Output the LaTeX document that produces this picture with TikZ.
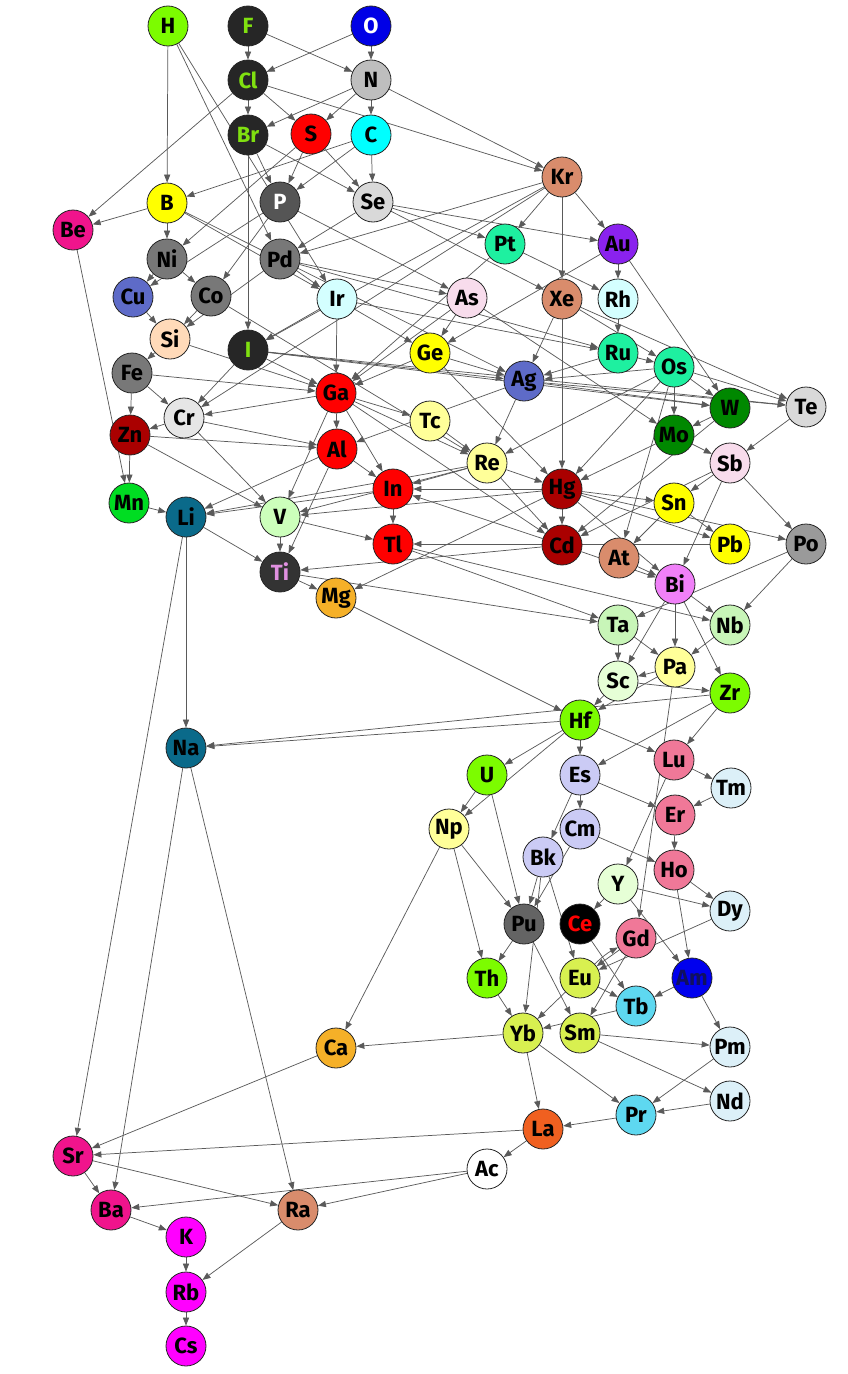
\documentclass[tikz,border=0pt]{standalone}
\usepackage{fontspec}
\setmainfont{Fira Sans}
\usetikzlibrary{arrows.meta,backgrounds}

% Colores de los elementos
\definecolor{cLima}{HTML}{7CFC00}
\definecolor{cOsc}{HTML}{262626}
\definecolor{cVerdeTxt}{HTML}{80E010}
\definecolor{cAzul}{HTML}{0000E6}
\definecolor{cGrisN}{HTML}{BEBEBE}
\definecolor{cRojo}{HTML}{FF0000}
\definecolor{cCian}{HTML}{00FFFF}
\definecolor{cSalmon}{HTML}{D98C6C}
\definecolor{cAmar}{HTML}{FFFF00}
\definecolor{cRosa}{HTML}{F0148C}
\definecolor{cGrisP}{HTML}{555555}
\definecolor{cGrisSe}{HTML}{D9D9D9}
\definecolor{cMenta}{HTML}{1EF0A0}
\definecolor{cVioleta}{HTML}{8A22EE}
\definecolor{cGrisM}{HTML}{787878}
\definecolor{cPizarra}{HTML}{5E6BC8}
\definecolor{cCelesteC}{HTML}{D4FFFF}
\definecolor{cRosaC}{HTML}{F8DCEC}
\definecolor{cMelocoton}{HTML}{FFDAB9}
\definecolor{cVerdeW}{HTML}{008800}
\definecolor{cGrisCr}{HTML}{E6E6E6}
\definecolor{cAmarC}{HTML}{FFFF99}
\definecolor{cGranate}{HTML}{AA0000}
\definecolor{cVerdeMn}{HTML}{00DD22}
\definecolor{cPetroleo}{HTML}{0A6A8A}
\definecolor{cVerdeV}{HTML}{CCFFBB}
\definecolor{cGrisPo}{HTML}{9A9A9A}
\definecolor{cGrisTi}{HTML}{333333}
\definecolor{cTxtTi}{HTML}{E090E0}
\definecolor{cMagentaC}{HTML}{F080F8}
\definecolor{cNaranja}{HTML}{F5B028}
\definecolor{cVerdeTa}{HTML}{C8F5B8}
\definecolor{cVerdeSc}{HTML}{E6FFD6}
\definecolor{cRosaLu}{HTML}{F07898}
\definecolor{cLavanda}{HTML}{CBCBF5}
\definecolor{cAzulTm}{HTML}{DCF0F8}
\definecolor{cGrisPu}{HTML}{646464}
\definecolor{cAzulAm}{HTML}{0000EE}
\definecolor{cTxtAm}{HTML}{101060}
\definecolor{cAmarEu}{HTML}{D8F050}
\definecolor{cCielo}{HTML}{5ED8F0}
\definecolor{cNaranjaLa}{HTML}{F06020}
\definecolor{cMagenta}{HTML}{FF00FF}
\definecolor{cArista}{HTML}{5A5A5A}

\tikzset{
  elem/.style={circle, draw=black!85, line width=0.6pt, fill=#1,
    minimum size=30pt, inner sep=0pt, font=\fontsize{16.5}{16.5}\selectfont\bfseries},
  arista/.style={draw=cArista, line width=0.55pt,
    -{Triangle[length=6pt,width=4.6pt]}}
}

\begin{document}
\begin{tikzpicture}[x=0.75pt,y=-0.75pt]
    \useasboundingbox (0,0) rectangle (848,1374);

    % Nodos (parte alta)
    \node[elem=cLima] (H) at (168,26) {H};
    \node[elem=cOsc, text=cVerdeTxt] (F) at (248,26) {F};
    \node[elem=cAzul, text=white] (O) at (371,26) {O};
    \node[elem=cOsc, text=cVerdeTxt] (Cl) at (248,80) {Cl};
    \node[elem=cGrisN] (N) at (371,80) {N};
    \node[elem=cOsc, text=cVerdeTxt] (Br) at (248,135) {Br};
    \node[elem=cRojo] (S) at (311,134) {S};
    \node[elem=cCian] (C) at (371,135) {C};
    \node[elem=cSalmon] (Kr) at (562,177) {Kr};
    \node[elem=cAmar] (B) at (167,203) {B};
    \node[elem=cRosa] (Be) at (73,230) {Be};
    \node[elem=cGrisP, text=white] (P) at (280,202) {P};
    \node[elem=cGrisSe] (Se) at (373,202) {Se};
    \node[elem=cMenta] (Pt) at (505,244) {Pt};
    \node[elem=cVioleta] (Au) at (618,244) {Au};
    \node[elem=cGrisM] (Ni) at (167,259) {Ni};
    \node[elem=cGrisM] (Pd) at (280,259) {Pd};
    \node[elem=cPizarra] (Cu) at (133,297) {Cu};
    \node[elem=cGrisM] (Co) at (211,296) {Co};
    \node[elem=cCelesteC] (Ir) at (337,299) {Ir};
    \node[elem=cRosaC] (As) at (467,298) {As};
    \node[elem=cSalmon] (Xe) at (562,299) {Xe};
    \node[elem=cCelesteC] (Rh) at (618,299) {Rh};
    \node[elem=cMelocoton] (Si) at (170,339) {Si};
    \node[elem=cOsc, text=cVerdeTxt] (I) at (248,350) {I};
    \node[elem=cAmar] (Ge) at (430,353) {Ge};
    \node[elem=cMenta] (Ru) at (618,353) {Ru};
    \node[elem=cMenta] (Os) at (674,367) {Os};
    \node[elem=cGrisM] (Fe) at (132,373) {Fe};
    \node[elem=cPizarra] (Ag) at (524,381) {Ag};
    \node[elem=cRojo] (Ga) at (336,393) {Ga};
    \node[elem=cVerdeW] (W) at (730,408) {W};
    \node[elem=cGrisSe] (Te) at (806,407) {Te};
    \node[elem=cGrisCr] (Cr) at (184,418) {Cr};
    \node[elem=cAmarC] (Tc) at (430,421) {Tc};
    \node[elem=cGranate] (Zn) at (130,435) {Zn};
    \node[elem=cVerdeW] (Mo) at (674,435) {Mo};
    \node[elem=cRojo] (Al) at (337,449) {Al};
    \node[elem=cRosaC] (Sb) at (730,463) {Sb};
    \node[elem=cAmarC] (Re) at (487,463) {Re};

    % Nodos (parte media)
    \node[elem=cRojo] (In) at (393,489) {In};
    \node[elem=cGranate] (Hg) at (562,489) {Hg};
    \node[elem=cVerdeMn] (Mn) at (129,503) {Mn};
    \node[elem=cPetroleo] (Li) at (186,517) {Li};
    \node[elem=cVerdeV] (V) at (280,517) {V};
    \node[elem=cAmar] (Sn) at (674,503) {Sn};
    \node[elem=cRojo] (Tl) at (393,544) {Tl};
    \node[elem=cGranate] (Cd) at (562,545) {Cd};
    \node[elem=cAmar] (Pb) at (730,544) {Pb};
    \node[elem=cGrisPo] (Po) at (806,544) {Po};
    \node[elem=cSalmon] (At) at (619,558) {At};
    \node[elem=cGrisTi, text=cTxtTi] (Ti) at (280,572) {Ti};
    \node[elem=cMagentaC] (Bi) at (675,584) {Bi};
    \node[elem=cNaranja] (Mg) at (336,598) {Mg};
    \node[elem=cVerdeTa] (Ta) at (618,625) {Ta};
    \node[elem=cVerdeTa] (Nb) at (730,625) {Nb};
    \node[elem=cAmarC] (Pa) at (675,667) {Pa};
    \node[elem=cVerdeSc] (Sc) at (618,681) {Sc};
    \node[elem=cLima] (Zr) at (730,693) {Zr};
    \node[elem=cLima] (Hf) at (580,720) {Hf};
    \node[elem=cPetroleo] (Na) at (186,748) {Na};
    \node[elem=cRosaLu] (Lu) at (674,760) {Lu};
    \node[elem=cLima] (U) at (487,775) {U};
    \node[elem=cLavanda] (Es) at (580,775) {Es};
    \node[elem=cAzulTm] (Tm) at (731,788) {Tm};
    \node[elem=cAmarC] (Np) at (449,829) {Np};
    \node[elem=cLavanda] (Cm) at (580,829) {Cm};
    \node[elem=cRosaLu] (Er) at (675,815) {Er};
    \node[elem=cLavanda] (Bk) at (543,857) {Bk};
    \node[elem=cRosaLu] (Ho) at (674,870) {Ho};
    \node[elem=cVerdeSc] (Y) at (618,884) {Y};
    \node[elem=cAzulTm] (Dy) at (730,911) {Dy};

    % Nodos (parte baja)
    \node[elem=cGrisPu] (Pu) at (524,924) {Pu};
    \node[elem=black, text=cRojo] (Ce) at (580,924) {Ce};
    \node[elem=cRosaLu] (Gd) at (636,938) {Gd};
    \node[elem=cAzulAm, text=cTxtAm] (Am) at (692,978) {Am};
    \node[elem=cLima] (Th) at (487,978) {Th};
    \node[elem=cAmarEu] (Eu) at (580,978) {Eu};
    \node[elem=cCielo] (Tb) at (636,1006) {Tb};
    \node[elem=cNaranja] (Ca) at (336,1048) {Ca};
    \node[elem=cAmarEu] (Yb) at (523,1033) {Yb};
    \node[elem=cAmarEu] (Sm) at (580,1033) {Sm};
    \node[elem=cAzulTm] (Pm) at (730,1047) {Pm};
    \node[elem=cAzulTm] (Nd) at (730,1101) {Nd};
    \node[elem=cCielo] (Pr) at (636,1115) {Pr};
    \node[elem=cNaranjaLa] (La) at (543,1129) {La};
    \node[elem=cRosa] (Sr) at (73,1156) {Sr};
    \node[elem=white] (Ac) at (487,1169) {Ac};
    \node[elem=cRosa] (Ba) at (111,1210) {Ba};
    \node[elem=cSalmon] (Ra) at (298,1210) {Ra};
    \node[elem=cMagenta] (K) at (186,1237) {K};
    \node[elem=cMagenta] (Rb) at (186,1292) {Rb};
    \node[elem=cMagenta] (Cs) at (186,1346) {Cs};

    % Aristas
    \begin{scope}[on background layer]
    \foreach \a/\b in {H/B, H/Pd, H/Ir, F/Cl, F/N, O/Cl, O/N,
        Cl/Br, Cl/Be, Cl/S, Cl/Kr, N/Br, N/S, N/C, N/Kr,
        Br/P, Br/Se, Br/I, S/Se, S/P, S/Ni, C/B, C/P, C/Se,
        B/Be, B/Ni, B/Ir, B/Ag, Be/Mn, P/Cu, P/Co, P/As,
        Se/Pd, Se/Pt, Se/Au, Se/Xe,
        Kr/Pt, Kr/Au, Kr/Xe, Kr/Pd, Kr/I, Kr/Cr,
        Pt/Rh, Pt/Ga, Au/Rh, Au/W, Au/Ge, Ni/Cu, Ni/Co,
        Pd/Ir, Pd/As, Pd/Si, Pd/Ru, Cu/Si, Co/Si, Co/Re,
        Ir/Ge, Ir/Ga, Ir/I, Ir/Ru, As/Ge, As/Mo, As/Ga,
        Xe/Os, Xe/Te, Xe/Hg, Xe/Ag, Rh/Ru, Si/Fe, Si/Ga,
        I/Cr, I/Ga, I/Ag, I/W, I/Te, Ge/Ag, Ge/Ga, Ge/Hg,
        Ru/Os, Ru/Ag, Os/W, Os/Mo, Os/Te, Os/Ag, Os/Re, Os/Hg, Os/At,
        Fe/Zn, Fe/Cr, Fe/Ga, Ag/W, Ag/Te, Ag/Re, Ag/Al,
        Ga/Al, Ga/In, Ga/Tc, Ga/Cr, Ga/V, Ga/Re, Ga/Cd,
        W/Mo, W/Cd, Te/Sb, Cr/Zn, Cr/Al, Cr/V, Tc/Re,
        Zn/Mn, Zn/Al, Zn/V, Mo/Sb, Mo/Hg, Al/In, Al/Ti, Al/Li,
        Sb/Sn, Sb/Po, Sb/Bi, Sb/Cd,
        Re/In, Re/Hg, Re/Cd, Re/V, Re/Li, In/Tl, In/Li,
        Hg/Cd, Hg/In, Hg/Sn, Hg/Pb, Hg/Po, Hg/Mg, Hg/Bi, Hg/V,
        Mn/Li, Li/Na, Li/Ti, Li/Sr, V/Ti, V/Tl, Sn/Pb, Sn/At,
        Tl/Ta, Tl/Nb, Cd/Ti, Cd/In, Cd/Bi, Pb/Tl, Po/Nb, Po/Ta,
        At/Bi, Ti/Mg, Ti/Ta, Bi/Nb, Bi/Pa, Bi/Zr, Bi/Sc, Mg/Hf,
        Ta/Sc, Ta/Pa, Nb/Pa, Pa/Sc, Pa/Hf, Pa/Gd, Sc/Hf, Sc/Zr,
        Zr/Na, Zr/Lu, Zr/Es, Hf/Na, Hf/U, Hf/Np, Hf/Es, Hf/Lu,
        U/Np, U/Pu, Es/Cm, Es/Er, Es/Bk, Lu/Tm, Lu/Y, Tm/Er,
        Np/Pu, Np/Th, Np/Ca, Cm/Ho, Cm/Pu, Er/Ho,
        Bk/Pu, Bk/Yb, Bk/Eu, Ho/Dy, Ho/Am, Y/Dy, Y/Ce, Y/Am,
        Dy/Eu, Pu/Th, Pu/Sm, Ce/Tb, Gd/Eu, Gd/Sm, Am/Tb, Am/Pm,
        Th/Yb, Eu/Tb, Eu/Yb, Tb/Yb, Ca/Sr, Yb/Ca, Yb/La, Yb/Pr,
        Sm/Pm, Sm/Nd, Pm/Pr, Nd/Pr, Pr/La, La/Ac, La/Sr,
        Sr/Ba, Sr/Ra, Ac/Ba, Ac/Ra, Na/Ba, Na/Ra,
        Ba/K, K/Rb, Ra/Rb, Rb/Cs}
        \draw[arista] (\a) -- (\b);
    \draw[arista] (Eu) to[bend left=8] (Gd);
    \end{scope}
\end{tikzpicture}
\end{document}
